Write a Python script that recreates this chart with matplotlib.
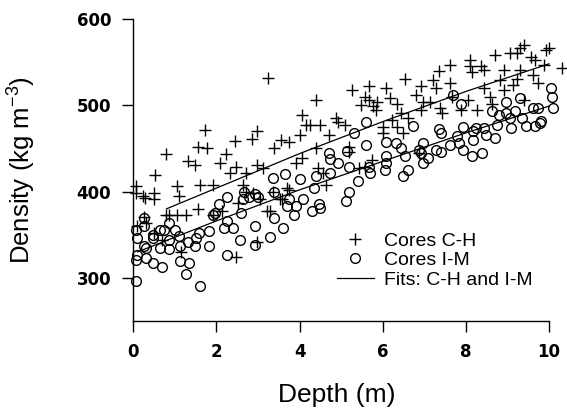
import matplotlib
matplotlib.use("Agg")
import matplotlib.pyplot as plt
from matplotlib.lines import Line2D

# ---- data ----
ch_depth = [0.07, 0.07, 0.29, 0.50, 0.50, 0.52, 0.78, 1.04, 1.10, 1.26,
            1.31, 1.48, 1.55, 1.60, 1.55, 1.77, 1.72, 1.91, 2.09, 2.22,
            2.32, 2.44, 2.48, 2.48, 2.72, 2.65, 2.70, 2.85, 2.98, 2.98,
            2.98, 3.13, 3.24, 3.22, 3.35, 3.39, 3.55, 3.74, 3.74, 3.57,
            3.92, 4.05, 4.00, 4.07, 4.16, 4.26, 4.40, 4.40, 4.48, 4.44,
            4.63, 4.70, 4.87, 4.92, 5.10, 5.18, 5.27, 5.20, 5.42, 5.48,
            5.57, 5.66, 5.66, 5.77, 5.83, 5.87, 6.00, 6.09, 6.18, 6.22,
            6.35, 6.44, 6.53, 6.48, 6.60, 6.79, 6.92, 6.96, 6.92, 7.14,
            7.22, 7.27, 7.35, 7.37, 7.42, 7.62, 7.62, 7.66, 7.88, 8.09,
            8.14, 8.09, 8.05, 8.27, 8.36, 8.44, 8.44, 8.57, 8.70, 8.83,
            8.92, 9.05, 9.14, 9.22, 9.31, 9.40, 9.31, 9.40, 9.57, 9.66,
            9.61, 9.74, 9.92, 10.00, 9.88, 10.31, 9.22, 8.62, 8.92,
            0.09, 0.26, 0.50, 0.78, 0.87, 1.04, 0.70, 0.24, 0.30, 1.15,
            1.91, 2.13, 2.52, 2.87, 3.05, 3.29, 3.52, 3.70, 4.57, 5.57,
            5.74, 6.00, 6.35, 6.87]
ch_density = [406, 398, 393, 398, 391, 419, 443, 406, 395, 373,
              435, 431, 380, 408, 452, 450, 471, 408, 433, 443,
              421, 459, 429, 324, 421, 408, 400, 461, 470, 431,
              342, 427, 532, 377, 400, 450, 460, 458, 402, 391,
              433, 489, 466, 439, 477, 477, 451, 506, 477, 427,
              408, 466, 485, 481, 477, 446, 518, 452, 427, 500,
              510, 522, 506, 499, 495, 504, 468, 520, 508, 483,
              502, 491, 531, 468, 485, 512, 522, 504, 495, 504,
              529, 520, 540, 497, 491, 547, 526, 510, 495, 553,
              539, 545, 506, 495, 545, 541, 520, 510, 558, 529,
              541, 560, 524, 560, 566, 570, 541, 506, 556, 553,
              535, 526, 564, 566, 547, 543, 531, 502, 518,
              360, 371, 352, 373, 373, 373, 344, 395, 364, 330,
              373, 377, 387, 398, 391, 378, 391, 404, 421, 429,
              437, 475, 475, 445]

im_depth = [0.07, 0.07, 0.10, 0.07, 0.09, 0.26, 0.26, 0.30, 0.30, 0.48,
            0.48, 0.48, 0.65, 0.70, 0.74, 0.87, 0.87, 1.00, 1.09, 1.13,
            1.13, 1.26, 1.35, 1.31, 1.48, 1.52, 1.57, 1.60, 1.81, 1.83,
            1.91, 1.96, 2.05, 2.18, 2.26, 2.26, 2.26, 2.41, 2.57, 2.59,
            2.63, 2.67, 2.79, 2.92, 2.93, 2.93, 2.99, 3.29, 3.35, 3.39,
            3.39, 3.66, 3.61, 3.70, 3.74, 3.86, 3.92, 4.00, 4.09, 4.31,
            4.35, 4.47, 4.48, 4.40, 4.70, 4.74, 4.72, 4.92, 5.12, 5.18,
            5.13, 5.18, 5.31, 5.40, 5.59, 5.59, 5.66, 5.70, 6.05, 6.07,
            6.07, 6.07, 6.31, 6.44, 6.53, 6.48, 6.61, 6.74, 6.88, 6.92,
            6.96, 6.96, 7.09, 7.27, 7.35, 7.40, 7.40, 7.62, 7.70, 7.79,
            7.83, 7.88, 7.94, 7.94, 8.14, 8.18, 8.18, 8.25, 8.40, 8.44,
            8.49, 8.62, 8.70, 8.75, 8.79, 8.96, 8.96, 9.05, 9.09, 9.18,
            9.31, 9.35, 9.44, 9.61, 9.66, 9.74, 9.79, 9.81, 10.05, 10.08,
            10.10, 0.26, 0.65, 0.87]
im_density = [296, 321, 326, 356, 346, 369, 337, 335, 323, 346,
              350, 317, 335, 312, 356, 364, 333, 356, 348, 337,
              319, 304, 317, 342, 337, 346, 352, 290, 337, 354,
              373, 375, 386, 358, 366, 394, 327, 358, 344, 375,
              391, 400, 394, 397, 360, 338, 394, 347, 416, 400,
              369, 420, 358, 383, 391, 373, 383, 414, 391, 377,
              404, 386, 381, 418, 445, 438, 421, 433, 389, 399,
              447, 429, 468, 412, 481, 454, 429, 421, 425, 458,
              441, 433, 456, 450, 441, 418, 425, 476, 448, 445,
              456, 433, 439, 448, 472, 468, 446, 454, 512, 464,
              456, 502, 475, 448, 441, 470, 460, 474, 445, 474,
              466, 493, 462, 477, 489, 504, 491, 485, 474, 493,
              508, 485, 476, 497, 476, 497, 479, 482, 520, 510,
              497, 360, 356, 344]

fit_ch_depth = [0.8, 2, 4, 6, 8, 10]
fit_ch_density = [380, 404, 444, 481, 516, 548]
fit_im_depth = [0.1, 2, 4, 6, 8, 10]
fit_im_density = [330, 366, 402, 435, 468, 499]

x_ticks = [0, 2, 4, 6, 8, 10]
y_ticks = [300, 400, 500, 600]

legend_labels = ["Cores C-H", "Cores I-M", "Fits: C-H and I-M"]

# ---- figure ----
plt.rcParams['font.family'] = ['Liberation Sans', 'DejaVu Sans']
plt.rcParams['mathtext.default'] = 'regular'

fig = plt.figure(figsize=(5.67, 4.16), dpi=100)
ax = fig.add_axes([0.2351, 0.2284, 0.7625, 0.726])

ax.plot(ch_depth, ch_density, linestyle='none', marker='+', ms=9,
        mew=1.0, color='black', clip_on=False)
ax.plot(im_depth, im_density, linestyle='none', marker='o', ms=7,
        mew=1.0, mfc='none', mec='black', clip_on=False)
ax.plot(fit_ch_depth, fit_ch_density, color='black', lw=0.9)
ax.plot(fit_im_depth, fit_im_density, color='black', lw=0.9)

ax.set_xlim(0, 10.4)
ax.set_ylim(250, 600)
ax.set_xticks(x_ticks)
ax.set_yticks(y_ticks)
tick_font = dict(family='DejaVu Sans', size=12, weight='bold')
ax.set_xticklabels([str(t) for t in x_ticks], fontdict=tick_font)
ax.set_yticklabels([str(t) for t in y_ticks], fontdict=tick_font)
ax.tick_params(direction='out', length=8, width=1.0, pad=8, color='black')

for s in ['top', 'right']:
    ax.spines[s].set_visible(False)
ax.spines['bottom'].set_bounds(0, 10)
ax.spines['left'].set_linewidth(1.0)
ax.spines['bottom'].set_linewidth(1.0)

ax.set_xlabel('Depth (m)', fontsize=19)
ax.xaxis.set_label_coords(0.47, -0.205)
ax.set_ylabel(r'Density (kg m$^{-3}$)', fontsize=18.5)
ax.yaxis.set_label_coords(-0.221, 0.5)

handles = [
    Line2D([], [], linestyle='none', marker='+', ms=9, mew=1.0, color='black'),
    Line2D([], [], linestyle='none', marker='o', ms=7, mew=1.0, mfc='none', mec='black'),
    Line2D([], [], color='black', lw=0.9),
]
ax.legend(handles, legend_labels, loc='upper left', bbox_to_anchor=(0.4705, 0.2947),
          frameon=False, prop={'family': 'Liberation Sans', 'size': 14},
          handlelength=1.9, handletextpad=0.52, labelspacing=0.1,
          borderpad=0, borderaxespad=0)

fig.savefig('out.png', dpi=100, facecolor='white')
